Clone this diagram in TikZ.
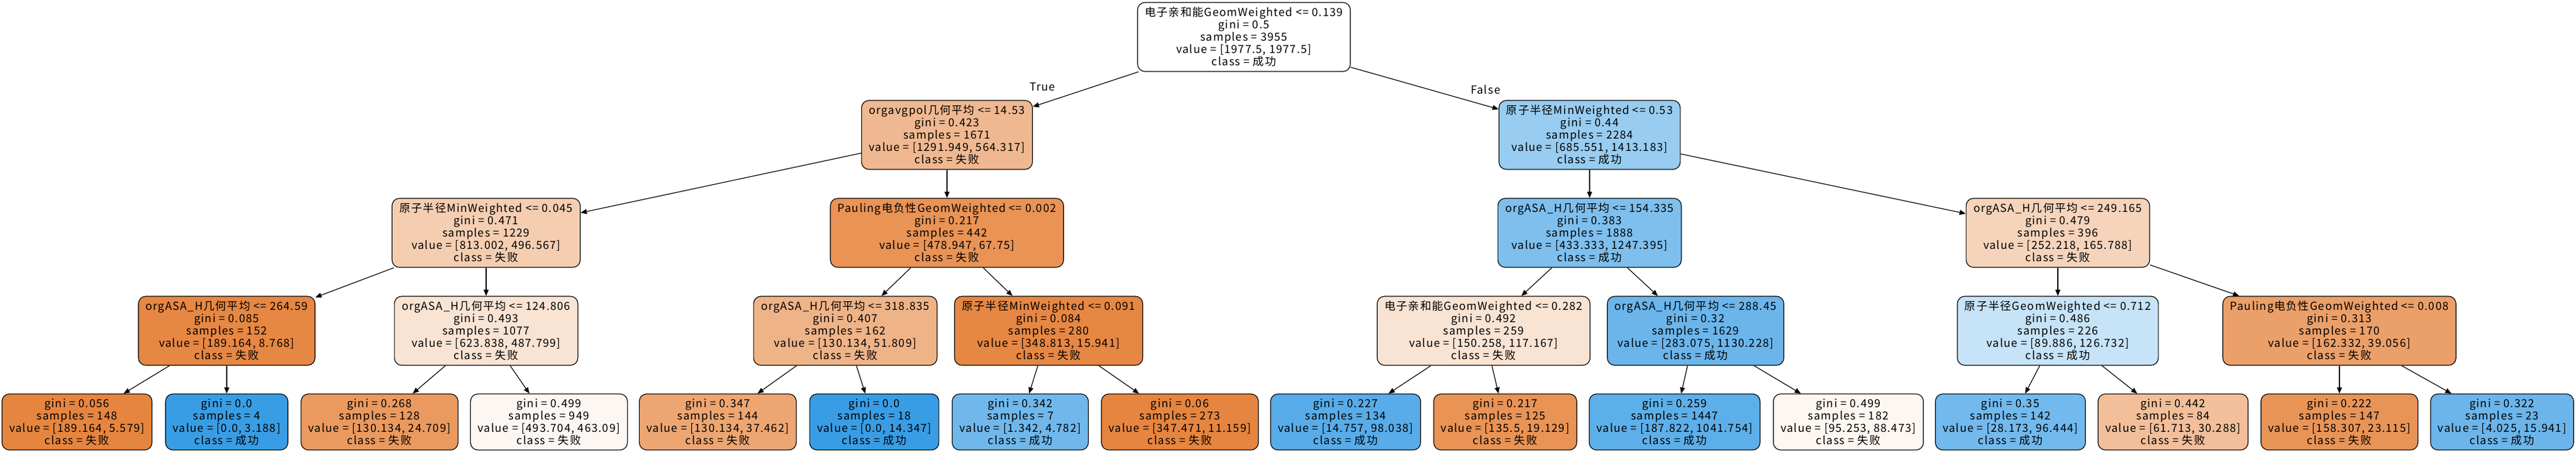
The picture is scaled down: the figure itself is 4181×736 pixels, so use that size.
\documentclass[tikz,border=0pt]{standalone}
\usepackage{fontspec}
\setmainfont{Noto Sans CJK SC}[LetterSpace=7]
\usetikzlibrary{arrows.meta}

\definecolor{ora}{RGB}{229,129,57}
\definecolor{blu}{RGB}{57,157,229}

\tikzset{
  box/.style={draw, rounded corners=6pt, align=center, inner xsep=6pt, inner ysep=0pt, line width=0.6pt,
    font=\fontsize{9}{10}\selectfont},
  cond/.style={box, minimum height=56pt},
  leafbox/.style={box, minimum height=45.5pt},
  arr/.style={-{Triangle[length=5pt,width=4pt]}, line width=0.6pt}
}

\begin{document}
\begin{tikzpicture}[x=0.5pt,y=-0.5pt]
\useasboundingbox (0,0) rectangle (4181,736);

\node[cond] (root) at (2019,60) {电子亲和能GeomWeighted <= 0.139\\gini = 0.5\\samples = 3955\\value = [1977.5, 1977.5]\\class = 成功};

\node[cond,fill=ora!56!white] (A) at (1537,219) {orgavgpol几何平均 <= 14.53\\gini = 0.423\\samples = 1671\\value = [1291.949, 564.317]\\class = 失败};
\node[cond,fill=blu!52!white] (B) at (2580,219) {原子半径MinWeighted <= 0.53\\gini = 0.44\\samples = 2284\\value = [685.551, 1413.183]\\class = 成功};

\node[cond,fill=ora!39!white] (AA) at (789,378) {原子半径MinWeighted <= 0.045\\gini = 0.471\\samples = 1229\\value = [813.002, 496.567]\\class = 失败};
\node[cond,fill=ora!86!white] (AB) at (1537,378) {Pauling电负性GeomWeighted <= 0.002\\gini = 0.217\\samples = 442\\value = [478.947, 67.75]\\class = 失败};
\node[cond,fill=blu!65!white] (BA) at (2580,378) {orgASA\_H几何平均 <= 154.335\\gini = 0.383\\samples = 1888\\value = [433.333, 1247.395]\\class = 成功};
\node[cond,fill=ora!34!white] (BB) at (3340,378) {orgASA\_H几何平均 <= 249.165\\gini = 0.479\\samples = 396\\value = [252.218, 165.788]\\class = 失败};

\node[cond,fill=ora!95!white] (AAA) at (368,537) {orgASA\_H几何平均 <= 264.59\\gini = 0.085\\samples = 152\\value = [189.164, 8.768]\\class = 失败};
\node[cond,fill=ora!22!white] (AAB) at (789,537) {orgASA\_H几何平均 <= 124.806\\gini = 0.493\\samples = 1077\\value = [623.838, 487.799]\\class = 失败};
\node[cond,fill=ora!60!white] (ABA) at (1372,537) {orgASA\_H几何平均 <= 318.835\\gini = 0.407\\samples = 162\\value = [130.134, 51.809]\\class = 失败};
\node[cond,fill=ora!95!white] (ABB) at (1702,537) {原子半径MinWeighted <= 0.091\\gini = 0.084\\samples = 280\\value = [348.813, 15.941]\\class = 失败};
\node[cond,fill=ora!22!white] (BAA) at (2408,537) {电子亲和能GeomWeighted <= 0.282\\gini = 0.492\\samples = 259\\value = [150.258, 117.167]\\class = 失败};
\node[cond,fill=blu!75!white] (BAB) at (2752,537) {orgASA\_H几何平均 <= 288.45\\gini = 0.32\\samples = 1629\\value = [283.075, 1130.228]\\class = 成功};
\node[cond,fill=blu!29!white] (BBA) at (3340,537) {原子半径GeomWeighted <= 0.712\\gini = 0.486\\samples = 226\\value = [89.886, 126.732]\\class = 成功};
\node[cond,fill=ora!76!white] (BBB) at (3797,537) {Pauling电负性GeomWeighted <= 0.008\\gini = 0.313\\samples = 170\\value = [162.332, 39.056]\\class = 失败};

% leaves
\node[leafbox,fill=ora!97!white] (L1) at (125,685) {gini = 0.056\\samples = 148\\value = [189.164, 5.579]\\class = 失败};
\node[leafbox,fill=blu] (L2) at (368,685) {gini = 0.0\\samples = 4\\value = [0.0, 3.188]\\class = 成功};
\node[leafbox,fill=ora!81!white] (L3) at (616,685) {gini = 0.268\\samples = 128\\value = [130.134, 24.709]\\class = 失败};
\node[leafbox,fill=ora!6!white] (L4) at (891,685) {gini = 0.499\\samples = 949\\value = [493.704, 463.09]\\class = 失败};
\node[leafbox,fill=ora!71!white] (L5) at (1165,685) {gini = 0.347\\samples = 144\\value = [130.134, 37.462]\\class = 失败};
\node[leafbox,fill=blu] (L6) at (1419,685) {gini = 0.0\\samples = 18\\value = [0.0, 14.347]\\class = 成功};
\node[leafbox,fill=blu!72!white] (L7) at (1656,685) {gini = 0.342\\samples = 7\\value = [1.342, 4.782]\\class = 成功};
\node[leafbox,fill=ora!97!white] (L8) at (1915,685) {gini = 0.06\\samples = 273\\value = [347.471, 11.159]\\class = 失败};
\node[leafbox,fill=blu!85!white] (L9) at (2184,685) {gini = 0.227\\samples = 134\\value = [14.757, 98.038]\\class = 成功};
\node[leafbox,fill=ora!86!white] (L10) at (2443,685) {gini = 0.217\\samples = 125\\value = [135.5, 19.129]\\class = 失败};
\node[leafbox,fill=blu!82!white] (L11) at (2718,685) {gini = 0.259\\samples = 1447\\value = [187.822, 1041.754]\\class = 成功};
\node[leafbox,fill=ora!7!white] (L12) at (3000,685) {gini = 0.499\\samples = 182\\value = [95.253, 88.473]\\class = 失败};
\node[leafbox,fill=blu!71!white] (L13) at (3263,685) {gini = 0.35\\samples = 142\\value = [28.173, 96.444]\\class = 成功};
\node[leafbox,fill=ora!51!white] (L14) at (3527,685) {gini = 0.442\\samples = 84\\value = [61.713, 30.288]\\class = 失败};
\node[leafbox,fill=ora!85!white] (L15) at (3797,685) {gini = 0.222\\samples = 147\\value = [158.307, 23.115]\\class = 失败};
\node[leafbox,fill=blu!75!white] (L16) at (4061,685) {gini = 0.322\\samples = 23\\value = [4.025, 15.941]\\class = 成功};

\node[font=\fontsize{9}{10}\selectfont] (T) at (1692,141) {True};
\node[font=\fontsize{9}{10}\selectfont] (F) at (2411,145) {False};

\draw[arr] (root) -- (A);
\draw[arr] (root) -- (B);
\draw[arr] (A) -- (AA);
\draw[arr] (A) -- (AB);
\draw[arr] (B) -- (BA);
\draw[arr] (B) -- (BB);
\draw[arr] (AA) -- (AAA);
\draw[arr] (AA) -- (AAB);
\draw[arr] (AB) -- (ABA);
\draw[arr] (AB) -- (ABB);
\draw[arr] (BA) -- (BAA);
\draw[arr] (BA) -- (BAB);
\draw[arr] (BB) -- (BBA);
\draw[arr] (BB) -- (BBB);
\draw[arr] (AAA) -- (L1);
\draw[arr] (AAA) -- (L2);
\draw[arr] (AAB) -- (L3);
\draw[arr] (AAB) -- (L4);
\draw[arr] (ABA) -- (L5);
\draw[arr] (ABA) -- (L6);
\draw[arr] (ABB) -- (L7);
\draw[arr] (ABB) -- (L8);
\draw[arr] (BAA) -- (L9);
\draw[arr] (BAA) -- (L10);
\draw[arr] (BAB) -- (L11);
\draw[arr] (BAB) -- (L12);
\draw[arr] (BBA) -- (L13);
\draw[arr] (BBA) -- (L14);
\draw[arr] (BBB) -- (L15);
\draw[arr] (BBB) -- (L16);
\end{tikzpicture}
\end{document}
